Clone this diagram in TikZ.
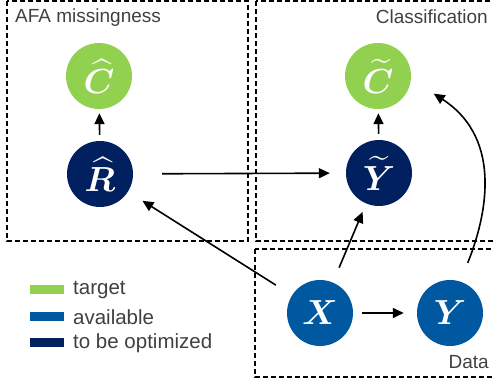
\documentclass[tikz,border=0pt]{standalone}
\usepackage{amsmath}
\usepackage{bm}
\usepackage{graphicx}
\usepackage{fontspec}
\setmainfont{Liberation Sans}
\usetikzlibrary{arrows.meta}
\definecolor{cgreen}{HTML}{92D050}
\definecolor{cnavy}{HTML}{002060}
\definecolor{cblue}{HTML}{0058A0}
\definecolor{ctext}{HTML}{404040}
\newcommand{\bigvar}[1]{\scalebox{1.4}{$\bm{#1}$}}
\tikzset{
  var/.style={circle, minimum size=66pt, inner sep=0pt, text=white, font=\fontsize{24.88}{25}\selectfont},
  targetvar/.style={var, fill=cgreen},
  availvar/.style={var, fill=cblue},
  optimvar/.style={var, fill=cnavy},
  region/.style={draw=black, line width=1.4pt, dash pattern=on 5pt off 3pt},
  boxtitle/.style={text=ctext, font=\fontsize{19}{19}\selectfont, inner sep=0pt},
  legtext/.style={text=ctext, font=\fontsize{20.5}{20.5}\selectfont, inner sep=0pt, anchor=west},
  swatch/.style={minimum width=34pt, minimum height=9pt, inner sep=0pt},
  arr/.style={line width=1.6pt, -{Triangle[length=11pt,width=10pt]}}
}
\begin{document}
\begin{tikzpicture}[x=1pt,y=-1pt]
\useasboundingbox (0,0) rectangle (493,379);
% regions
\draw[region] (7,1) rectangle (248,241);
\draw[region] (256,1) rectangle (505,241);
\draw[region] (255,249) rectangle (505,377);
\node[boxtitle, anchor=base west] (t1) at (15,23) {AFA missingness};
\node[boxtitle, anchor=base east] (t2) at (488,24) {Classification};
\node[boxtitle, anchor=base east] (t3) at (489,369) {Data};
% variables
\node[targetvar] (Ch) at (99,76) {\bigvar{\widehat{C}}};
\node[optimvar] (Rh) at (100,174) {\bigvar{\widehat{R}}};
\node[targetvar] (Ct) at (378,76) {\bigvar{\widetilde{C}}};
\node[optimvar] (Yt) at (379,173) {\bigvar{\widetilde{Y}}};
\node[availvar] (X) at (320,313) {\bigvar{X}};
\node[availvar] (Y) at (450,313) {\bigvar{Y}};
% connectors
\draw[arr, shorten <=6pt, shorten >=4pt] (Rh) -- (Ch);
\draw[arr, shorten <=6pt, shorten >=4pt] (Yt) -- (Ct);
\draw[arr, shorten <=29pt, shorten >=16pt] (Rh) -- (Yt);
\draw[arr, shorten <=19pt, shorten >=17pt] (X) -- (Rh);
\draw[arr, shorten <=16pt, shorten >=9pt] (X) -- (Yt);
\draw[arr, shorten <=9pt, shorten >=13pt] (X) -- (Y);
\draw[arr, shorten <=20pt, shorten >=27pt] (Y.72) .. controls (485,220) and (505,140) .. (Ct.-5);
% legend
\node[swatch, fill=cgreen] (s1) at (47,290) {};
\node[swatch, fill=cblue] (s2) at (47,317) {};
\node[swatch, fill=cnavy] (s3) at (47,343) {};
\node[legtext] (l1) at (73,290) {target};
\node[legtext] (l2) at (73,317) {available};
\node[legtext] (l3) at (73,343) {to be optimized};
\end{tikzpicture}
\end{document}
